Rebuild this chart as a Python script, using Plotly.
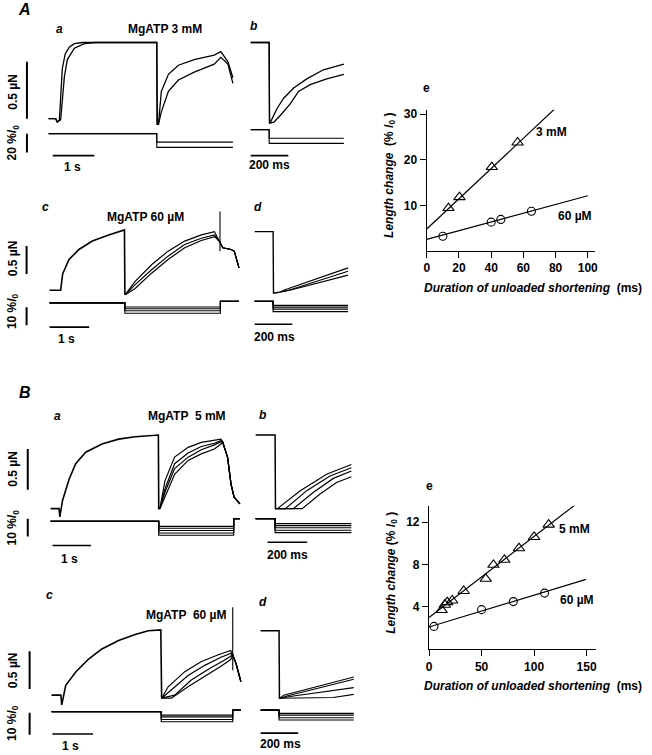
import plotly.graph_objects as go

W, H = 652, 755

# ================= DATA =================
# --- A: MgATP 3 mM, panel a (time s, force µN, length %l0) ---
Aa_t1 = [0, 0.17, 0.21, 0.26, 0.33, 0.40, 0.50, 0.62, 0.81, 2.60, 2.61, 2.64, 2.71, 2.88, 3.12, 3.50, 3.98, 4.14, 4.31, 4.43]
Aa_F1 = [0, 0, -0.03, -0.01, 0.44, 0.57, 0.63, 0.66, 0.67, 0.67, -0.05, -0.05, 0.24, 0.39, 0.47, 0.52, 0.56, 0.59, 0.50, 0.36]
Aa_t2 = [0, 0.17, 0.21, 0.29, 0.38, 0.45, 0.62, 0.86, 1.12, 2.60, 2.61, 2.64, 2.71, 2.88, 3.12, 3.50, 3.98, 4.14, 4.31, 4.43]
Aa_F2 = [0, 0, -0.03, -0.01, 0.37, 0.52, 0.62, 0.66, 0.67, 0.67, -0.05, -0.05, 0.06, 0.24, 0.34, 0.41, 0.48, 0.54, 0.48, 0.31]
A3_steps = [-9.0, -14.5]
Aa_release, Aa_end = 2.60, 4.43

# --- A: panel b (time ms) ---
Ab_t1 = [0, 98, 100, 105, 140, 175, 228, 298, 386, 495]
Ab_F1 = [0.67, 0.67, -0.04, -0.03, 0.09, 0.18, 0.27, 0.35, 0.43, 0.48]
Ab_t2 = [0, 98, 100, 123, 158, 210, 254, 316, 404, 495]
Ab_F2 = [0.67, 0.67, -0.04, -0.03, 0.03, 0.13, 0.24, 0.30, 0.35, 0.39]
Ab_release, Ab_end = 98, 495

# --- A: MgATP 60 µM, panel c ---
Ac_rise_t = [0, 0.28, 0.33, 0.49, 0.74, 1.08, 1.49, 1.89, 1.90, 1.91]
Ac_rise_F = [0, 0, 0.29, 0.55, 0.73, 0.88, 0.99, 1.08, -0.07, -0.08]
Ac_rec_t = [1.91, 2.16, 2.58, 2.99, 3.41, 3.83, 4.16]
Ac_rec_F1 = [-0.08, 0.16, 0.46, 0.70, 0.88, 0.99, 1.05]
Ac_rec_F2 = [-0.08, 0.10, 0.37, 0.61, 0.82, 0.93, 0.99]
Ac_rec_F3 = [-0.08, 0.03, 0.31, 0.55, 0.76, 0.89, 0.96]
Ac_tail_t = [4.28, 4.37, 4.58, 4.66, 4.78]
Ac_tail_F = [0.88, 0.76, 0.73, 0.70, 0.40]
Ac_spike_t, Ac_spike_F = [4.30, 4.30], [0.70, 1.41]
A60_steps = [-2.3, -3.3, -4.4, -5.8]
Ac_release, Ac_restretch, Ac_end, Ac_restretch_L = 1.90, 4.31, 4.78, 0.9

# --- A: panel d ---
Ad_common_t = [0, 98, 100, 110, 137]
Ad_common_F = [1.05, 1.05, -0.05, -0.05, -0.03]
Ad_lines_t = [[137, 154, 496], [137, 181, 496], [137, 198, 496]]
Ad_lines_F = [[-0.03, 0.0, 0.40], [-0.03, 0.0, 0.34], [-0.03, 0.01, 0.27]]
Ad_release, Ad_end = 98, 496

# --- A: panel e ---
Ae_tri_x = [13.5, 20.3, 40.4, 56.4]
Ae_tri_y = [9.4, 11.8, 18.4, 23.8]
Ae_circ_x = [10, 40, 46, 65]
Ae_circ_y = [3.2, 6.3, 6.9, 8.7]
Ae_fit3_x, Ae_fit3_y = [0, 79.5], [4.8, 31.2]
Ae_fit60_x, Ae_fit60_y = [0, 100], [2.5, 12.1]
Ae_xticks = [0, 20, 40, 60, 80, 100]
Ae_yticks = [10, 20, 30]

# --- B: MgATP 5 mM, panel a ---
Ba_rise_t = [0, 0.22, 0.24, 0.31, 0.48, 0.65, 0.91, 1.33, 1.76, 2.19, 2.79, 2.80, 2.83]
Ba_rise_F = [0, 0, -0.10, 0.10, 0.36, 0.55, 0.69, 0.79, 0.85, 0.88, 0.90, 0.0, 0.0]
Ba_rec_t = [2.83, 2.96, 3.21, 3.56, 3.90, 4.24, 4.41]
Ba_rec_F = [[0, 0.34, 0.63, 0.75, 0.81, 0.84, 0.85],
            [0, 0.24, 0.55, 0.68, 0.76, 0.80, 0.83],
            [0, 0.20, 0.49, 0.63, 0.72, 0.78, 0.82],
            [0, 0.14, 0.42, 0.59, 0.67, 0.73, 0.79]]
Ba_tail_t = [4.45, 4.58, 4.67, 4.75, 4.90]
Ba_tail_F = [0.82, 0.63, 0.30, 0.14, 0.06]
B5_steps = [-2.8, -3.9, -5.1, -6.5, -7.8]
Ba_release, Ba_restretch, Ba_end, Ba_restretch_L = 2.80, 4.74, 4.90, 1.5

# --- B: panel b ---
Bb_common_t = [0, 98, 100, 110]
Bb_common_F = [0.90, 0.90, 0.0, 0.0]
Bb_lines_t = [[110, 225, 358, 483], [110, 150, 258, 375, 483], [110, 190, 292, 392, 483], [110, 235, 325, 408, 483]]
Bb_lines_F = [[0, 0.22, 0.42, 0.54], [0, 0, 0.22, 0.40, 0.50], [0, 0, 0.20, 0.37, 0.46], [0, 0, 0.18, 0.32, 0.39]]
Bb_release, Bb_end = 98, 483

# --- B: MgATP 60 µM, panel c ---
Bc_rise_t = [0, 0.23, 0.25, 0.35, 0.60, 0.92, 1.24, 1.65, 2.06, 2.38, 2.69, 2.70, 2.71]
Bc_rise_F = [0, 0, -0.13, 0.13, 0.31, 0.48, 0.61, 0.72, 0.80, 0.85, 0.86, -0.04, -0.04]
Bc_rec_t = [[2.71, 2.87, 3.28, 3.68, 4.09, 4.41],
            [2.71, 2.95, 3.36, 3.76, 4.17, 4.41],
            [2.71, 3.03, 3.44, 3.85, 4.25, 4.41],
            [2.71, 2.95, 3.36, 3.76, 4.17, 4.41]]
Bc_rec_F = [[-0.04, 0.11, 0.31, 0.44, 0.53, 0.59],
            [-0.04, 0.07, 0.26, 0.39, 0.50, 0.55],
            [-0.04, 0.0, 0.20, 0.34, 0.46, 0.51],
            [-0.04, -0.04, 0.11, 0.24, 0.38, 0.47]]
Bc_tail_t = [4.46, 4.54, 4.66]
Bc_tail_F = [0.53, 0.42, 0.18]
Bc_spike_t, Bc_spike_F = [4.46, 4.46], [0.33, 1.16]
B60_steps = [-1.5, -2.3, -3.5, -4.5]
Bc_release, Bc_restretch, Bc_end, Bc_restretch_L = 2.70, 4.46, 4.66, 0.8

# --- B: panel d ---
Bd_common_t = [0, 98, 100, 102]
Bd_common_F = [0.85, 0.85, -0.04, -0.04]
Bd_lines_t = [[102, 123, 495], [102, 140, 495], [102, 175, 495], [102, 386, 495]]
Bd_lines_F = [[-0.04, 0.0, 0.24], [-0.04, -0.01, 0.21], [-0.04, -0.01, 0.10], [-0.04, -0.03, 0.01]]
Bd_release, Bd_end = 98, 495

# --- B: panel e ---
Be_tri_x = [12, 15, 17.3, 22, 33, 54, 61.3, 71.7, 85.6, 100, 113.9]
Be_tri_y = [3.7, 4.2, 4.45, 4.6, 5.5, 6.65, 7.97, 8.44, 9.53, 10.6, 11.76]
Be_circ_x = [4.7, 50, 80.2, 110]
Be_circ_y = [2.16, 3.74, 4.5, 5.3]
Be_fit5_x, Be_fit5_y = [0, 140], [3.0, 13.7]
Be_fit60_x, Be_fit60_y = [0, 149.4], [2.1, 6.6]
Be_xticks = [0, 50, 100, 150]
Be_yticks = [4, 8, 12]

# ================= FIGURE =================
FONT = "Liberation Sans, Arial, Helvetica, sans-serif"
fig = go.Figure()
axes = {}
count = {"x": 0, "y": 0}


def new_axis(kind, dom, rng, **kw):
    count[kind] += 1
    n = count[kind]
    suffix = "" if n == 1 else str(n)
    d = dict(domain=dom, range=rng, visible=False, fixedrange=True,
             showgrid=False, zeroline=False)
    d.update(kw)
    axes[kind + "axis" + suffix] = d
    return kind + suffix


def trace_panel(box, xo, xs, fo, fs, lo, ls):
    x0, x1, y0, y1 = box
    xdom = [x0 / W, x1 / W]
    ydom = [1 - y1 / H, 1 - y0 / H]
    xa = new_axis("x", xdom, [(x0 - xo) / xs, (x1 - xo) / xs])
    ya = new_axis("y", ydom, [(fo - y1) / fs, (fo - y0) / fs])
    yl = new_axis("y", ydom, [(lo - y1) / ls, (lo - y0) / ls])
    axes["xaxis" + xa[1:]]["anchor"] = ya
    axes["yaxis" + ya[1:]]["anchor"] = xa
    axes["yaxis" + yl[1:]]["anchor"] = xa
    return xa, ya, yl


def line(xa, ya, x, y, w=1.2):
    fig.add_trace(go.Scatter(x=x, y=y, xaxis=xa, yaxis=ya, mode="lines",
                             line=dict(color="black", width=w),
                             hoverinfo="skip", showlegend=False))


def length_steps(xa, yl, steps, release, end, restretch=None, rl=0.0):
    for s in steps:
        if restretch is None:
            line(xa, yl, [0, release, release, end], [0, 0, s, s], 1.1)
        else:
            line(xa, yl, [0, release, release, restretch, restretch, end],
                 [0, 0, s, s, rl, rl], 1.1)


def bars(xa, ya, yl, fbar=None, lbar=None, tbar=None):
    if fbar:
        line(xa, ya, [fbar[0], fbar[0]], fbar[1], 2)
    if lbar:
        line(xa, yl, [lbar[0], lbar[0]], lbar[1], 2)
    if tbar:
        line(xa, yl, tbar[0], [tbar[1], tbar[1]], 1.6)


# ---- Panel A a ----
xa, ya, yl = trace_panel((0, 240, 25, 175), 46, 42, 117, 114, 132, 0.95)
line(xa, ya, Aa_t1, Aa_F1, 1.3)
line(xa, ya, Aa_t2, Aa_F2, 1.3)
length_steps(xa, yl, A3_steps, Aa_release, Aa_end)
bars(xa, ya, yl, fbar=(-0.52, [0, 0.5]), lbar=(-0.52, [0, -20]), tbar=([0.1, 1.1], -23.2))

# ---- Panel A b ----
xa, ya, yl = trace_panel((245, 352, 25, 175), 250, 0.19, 117, 114, 128, 0.95)
line(xa, ya, Ab_t1, Ab_F1, 1.3)
line(xa, ya, Ab_t2, Ab_F2, 1.3)
length_steps(xa, yl, A3_steps, Ab_release, Ab_end)
bars(xa, ya, yl, tbar=([0, 200], -27.4))

# ---- Panel A c ----
xa, ya, yl = trace_panel((0, 242, 200, 345), 47, 40, 289, 56, 301.7, 1.8)
line(xa, ya, Ac_rise_t, Ac_rise_F, 1.6)
for F in (Ac_rec_F1, Ac_rec_F2, Ac_rec_F3):
    line(xa, ya, Ac_rec_t + Ac_tail_t, F + Ac_tail_F, 1.2)
line(xa, ya, Ac_spike_t, Ac_spike_F, 1.1)
length_steps(xa, yl, A60_steps, Ac_release, Ac_end, Ac_restretch, Ac_restretch_L)
bars(xa, ya, yl, fbar=(-0.58, [0.29, 0.79]), lbar=(-0.58, [-2.4, -12.4]), tbar=([0, 1], -13.5))

# ---- Panel A d ----
xa, ya, yl = trace_panel((245, 352, 200, 345), 254, 0.19, 289, 56, 300, 1.8)
line(xa, ya, Ad_common_t, Ad_common_F, 1.4)
for t, F in zip(Ad_lines_t, Ad_lines_F):
    line(xa, ya, t, F, 1.1)
length_steps(xa, yl, A60_steps, Ad_release, Ad_end)
bars(xa, ya, yl, tbar=([0, 200], -12.8))

# ---- Panel B a ----
xa, ya, yl = trace_panel((0, 242, 400, 560), 48, 39, 508, 82, 520.7, 1.8)
line(xa, ya, Ba_rise_t, Ba_rise_F, 1.6)
for F in Ba_rec_F:
    line(xa, ya, Ba_rec_t + Ba_tail_t, F + Ba_tail_F, 1.2)
length_steps(xa, yl, B5_steps, Ba_release, Ba_end, Ba_restretch, Ba_restretch_L)
bars(xa, ya, yl, fbar=(-0.59, [0.23, 0.73]), lbar=(-0.59, [1.5, -8.5]), tbar=([0.05, 1.05], -13.5))

# ---- Panel B b ----
xa, ya, yl = trace_panel((245, 356, 400, 560), 255, 0.2, 508, 82, 518, 1.8)
line(xa, ya, Bb_common_t, Bb_common_F, 1.5)
for t, F in zip(Bb_lines_t, Bb_lines_F):
    line(xa, ya, t, F, 1.2)
length_steps(xa, yl, B5_steps, Bb_release, Bb_end)
bars(xa, ya, yl, tbar=([60, 260], -13.2))

# ---- Panel B c ----
xa, ya, yl = trace_panel((0, 245, 585, 752), 49, 41, 695, 76, 711.7, 2.2)
line(xa, ya, Bc_rise_t, Bc_rise_F, 1.6)
for t, F in zip(Bc_rec_t, Bc_rec_F):
    line(xa, ya, t + Bc_tail_t, F + Bc_tail_F, 1.2)
line(xa, ya, Bc_spike_t, Bc_spike_F, 1.1)
length_steps(xa, yl, B60_steps, Bc_release, Bc_end, Bc_restretch, Bc_restretch_L)
bars(xa, ya, yl, fbar=(-0.54, [0.08, 0.58]), lbar=(-0.54, [-0.45, -10.45]), tbar=([0.02, 1.02], -10.1))

# ---- Panel B d ----
xa, ya, yl = trace_panel((245, 358, 585, 752), 260, 0.19, 695, 76, 710, 2.2)
line(xa, ya, Bd_common_t, Bd_common_F, 1.5)
for t, F in zip(Bd_lines_t, Bd_lines_F):
    line(xa, ya, t, F, 1.1)
length_steps(xa, yl, B60_steps, Bd_release, Bd_end)
bars(xa, ya, yl, tbar=([0, 200], -10.5))


# ---- e panels ----
def e_panel(xpx, ypx, xr, yr, xt, yt):
    tick = dict(visible=True, showline=True, linecolor="black", linewidth=1.3,
                ticks="outside", ticklen=6, tickwidth=1.3, tickcolor="black",
                tickfont=dict(family=FONT, size=12, color="black", weight="bold"),
                showgrid=False, zeroline=False, fixedrange=True)
    xa = new_axis("x", [xpx[0] / W, xpx[1] / W], xr, **tick, tickvals=xt)
    ya = new_axis("y", [1 - ypx[1] / H, 1 - ypx[0] / H], yr, **tick, tickvals=yt)
    axes["xaxis" + xa[1:]]["anchor"] = ya
    axes["yaxis" + ya[1:]]["anchor"] = xa
    return xa, ya


def pts(xa, ya, x, y, sym, size):
    fig.add_trace(go.Scatter(x=x, y=y, xaxis=xa, yaxis=ya, mode="markers",
                             marker=dict(symbol=sym, size=size, color="black",
                                         line=dict(color="black", width=1.1)),
                             hoverinfo="skip", showlegend=False, cliponaxis=False))


xa, ya = e_panel((427.7, 598), (108, 249.5), [0, 104.8], [0, 31], Ae_xticks, Ae_yticks)
line(xa, ya, Ae_fit3_x, Ae_fit3_y, 1.2)
line(xa, ya, Ae_fit60_x, Ae_fit60_y, 1.2)
pts(xa, ya, Ae_tri_x, Ae_tri_y, "triangle-up-open", 10)
pts(xa, ya, Ae_circ_x, Ae_circ_y, "circle-open", 8)

xa, ya = e_panel((430, 599), (505, 649), [0, 159.4], [0, 13.55], Be_xticks, Be_yticks)
line(xa, ya, Be_fit5_x, Be_fit5_y, 1.2)
line(xa, ya, Be_fit60_x, Be_fit60_y, 1.2)
pts(xa, ya, Be_tri_x, Be_tri_y, "triangle-up-open", 10)
pts(xa, ya, Be_circ_x, Be_circ_y, "circle-open", 8)

# ---- annotations ----
ann = []


def txt(x, y, s, size=12, angle=0, xanchor="center"):
    ann.append(dict(x=x / W, y=1 - y / H, xref="paper", yref="paper", text=s,
                    showarrow=False, textangle=angle, xanchor=xanchor, yanchor="middle",
                    font=dict(family=FONT, size=size, color="black")))


L0 = "<b>%<i>l</i><sub>0</sub></b>"
txt(22, 8, "<b><i>A</i></b>", 16)
txt(57, 27, "<b><i>a</i></b>")
txt(163, 27, "<b>MgATP 3 mM</b>")
txt(253, 24, "<b><i>b</i></b>")
txt(10, 90, "<b>0.5 µN</b>", 12, -90)
txt(10, 141, "<b>20 </b>" + L0, 12, -90)
txt(70, 165, "<b>1 s</b>")
txt(269, 163, "<b>200 ms</b>")

txt(43, 206, "<b><i>c</i></b>")
txt(144, 216, "<b>MgATP 60 µM</b>")
txt(257, 206, "<b><i>d</i></b>")
txt(10, 257, "<b>0.5 µN</b>", 12, -90)
txt(10, 310, "<b>10 </b>" + L0, 12, -90)
txt(64, 338, "<b>1 s</b>")
txt(274, 336, "<b>200 ms</b>")

txt(427, 86, "<b>e</b>")
txt(554, 130, "<b>3 mM</b>")
txt(577, 215, "<b>60 µM</b>")
txt(535, 287, "<b><i>Duration of unloaded shortening</i>  (ms)</b>", 12)
txt(390, 174, "<b><i>Length change</i>  (% <i>l</i><sub>0</sub> )</b>", 12, -90)

txt(22, 392, "<b><i>B</i></b>", 16)
txt(55, 415, "<b><i>a</i></b>")
txt(186, 415, "<b>MgATP  5 mM</b>")
txt(262, 414, "<b><i>b</i></b>")
txt(10, 468, "<b>0.5 µN</b>", 12, -90)
txt(10, 527, "<b>10 </b>" + L0, 12, -90)
txt(67, 558, "<b>1 s</b>")
txt(287, 554, "<b>200 ms</b>")

txt(430, 485, "<b>e</b>")
txt(577, 528, "<b>5 mM</b>")
txt(579, 600, "<b>60 µM</b>")
txt(535, 686, "<b><i>Duration of unloaded shortening</i>  (ms)</b>", 12)
txt(393, 572, "<b><i>Length change</i> (% <i>l</i><sub>0</sub> )</b>", 12, -90)

txt(47, 595, "<b><i>c</i></b>")
txt(185, 615, "<b>MgATP  60 µM</b>")
txt(262, 602, "<b><i>d</i></b>")
txt(10, 670, "<b>0.5 µN</b>", 12, -90)
txt(10, 723, "<b>10 </b>" + L0, 12, -90)
txt(68, 746, "<b>1 s</b>")
txt(280, 744, "<b>200 ms</b>")

fig.update_layout(width=W, height=H, autosize=False,
                  margin=dict(l=0, r=0, t=0, b=0, pad=0),
                  paper_bgcolor="white", plot_bgcolor="rgba(0,0,0,0)",
                  showlegend=False, annotations=ann,
                  font=dict(family=FONT, color="black"), **axes)

fig.write_html("out.html", config={"displayModeBar": False},
               post_script="document.body.style.margin='0px';document.body.style.overflow='hidden';")
